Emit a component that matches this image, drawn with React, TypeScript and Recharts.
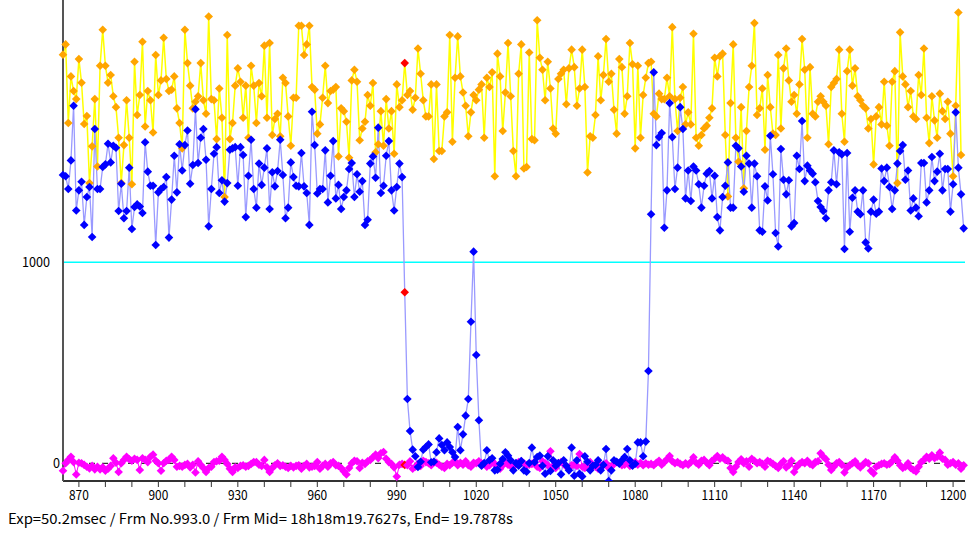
import { ComposedChart, Line, XAxis, YAxis, ReferenceLine } from 'recharts';

// first frame shown on the left edge, and the frame marked in red
const FRAME_START = 864;
const CURRENT_FRAME = 993;

const xTicks = [
  870, 880, 890, 900, 910, 920, 930, 940, 950, 960, 970, 980, 990, 1000, 1010, 1020, 1030,
  1040, 1050, 1060, 1070, 1080, 1090, 1100, 1110, 1120, 1130, 1140, 1150, 1160, 1170, 1180,
  1190, 1200,
];
const yTicks = [0, 1000];

// comparison star (orange markers, yellow line)
const orangeSeries = [
  2033, 2084, 1693, 1925, 1852, 1812, 2011, 1893, 1688, 1728, // 864
  1394, 1577, 1812, 1477, 1978, 2157, 1978, 1893, 1932, 1826, // 874
  1772, 1620, 1394, 1583, 1806, 1620, 1388, 1998, 1733, 1832, // 884
  2097, 1676, 1852, 1806, 1646, 2031, 1832, 1905, 2117, 1912, // 894
  1852, 1859, 1925, 1766, 1693, 1567, 2157, 1991, 1879, 1766, // 904
  1799, 1826, 1991, 1806, 1739, 2223, 1812, 1806, 1613, 1865, // 914
  1719, 1325, 2131, 1613, 1693, 1879, 1965, 1898, 1719, 1879, // 924
  1620, 1978, 1879, 1693, 1892, 1826, 2078, 1719, 2091, 1633, // 934
  1713, 1739, 1627, 1918, 1892, 1726, 1580, 1819, 1819, 2177, // 944
  2177, 2031, 2084, 2177, 1872, 1859, 1640, 1686, 1819, 1978, // 954
  1792, 1852, 1859, 1872, 1527, 1766, 1752, 1699, 1520, 1905, // 964
  1958, 1898, 1607, 1666, 1699, 1832, 1779, 1892, 1547, 1587, // 974
  1752, 1580, 1812, 1666, 1752, 1540, 1885, 1772, 1806, 1991, // 984
  1832, 1852, 1759, 1819, 2064, 1938, 1806, 1726, 1726, 1885, // 994
  1514, 1885, 1554, 1554, 1726, 1746, 2131, 1600, 1918, 2124, // 1004
  1925, 1845, 1779, 1627, 1746, 1832, 1806, 1859, 1885, 1620, // 1014
  1918, 1872, 1945, 1428, 2038, 1925, 1653, 1845, 2091, 1826, // 1024
  1554, 1428, 1938, 2084, 1467, 1474, 2044, 1613, 1607, 2204, // 1034
  2018, 1958, 1806, 1998, 1865, 1666, 1640, 1912, 1938, 1958, // 1044
  1786, 1965, 2058, 1971, 1779, 1865, 2058, 1872, 1447, 1627, // 1054
  1620, 1733, 2025, 1806, 1932, 2111, 1898, 1938, 1759, 1640, // 1064
  2011, 1971, 1739, 1826, 2091, 1985, 1567, 1978, 1620, 1832, // 1074
  1918, 1991, 1998, 1739, 1726, 1839, 1812, 1812, 1918, 1826, // 1084
  2170, 1812, 1653, 1819, 1872, 1686, 1746, 1686, 2137, 1620, // 1094
  1580, 1633, 1666, 1680, 1719, 1766, 2018, 1925, 2025, 2038, // 1104
  1633, 1328, 1792, 2084, 1620, 1500, 1772, 1368, 1653, 1872, // 1114
  1978, 2190, 1733, 1766, 1865, 1560, 1932, 1772, 1640, 1633, // 1124
  2031, 1666, 1965, 2064, 1905, 1799, 1832, 1739, 1885, 2111, // 1134
  1958, 1620, 1971, 1739, 1726, 1799, 1826, 1799, 1779, 1587, // 1144
  1872, 1892, 1912, 2058, 1739, 1600, 1951, 2058, 1879, 1965, // 1154
  1826, 1806, 1779, 1766, 1666, 1713, 1487, 1726, 1772, 1686, // 1164
  1898, 1680, 1580, 1898, 1951, 1394, 2144, 1925, 1885, 1772, // 1174
  1852, 1726, 1713, 1932, 1832, 2064, 1719, 1593, 1826, 1706, // 1184
  1620, 1839, 1752, 1713, 1799, 1640, 1428, 1779, 2243, 1534, // 1194
];

// target star (blue markers) with the occultation dip
const blueSeries = [
  1434, 1428, 1365, 1507, 1779, 1258, 1358, 1401, 1186, 1325, // 864
  1375, 1126, 1663, 1365, 1365, 1474, 1487, 1590, 1497, 1580, // 874
  1570, 1255, 1391, 1219, 1255, 1471, 1166, 1275, 1288, 1278, // 884
  1245, 1597, 1451, 1381, 1381, 1086, 1348, 1365, 1375, 1424, // 894
  1123, 1312, 1530, 1348, 1587, 1457, 1583, 1656, 1391, 1484, // 904
  1762, 1494, 1620, 1663, 1510, 1179, 1365, 1540, 1573, 1345, // 914
  1408, 1302, 1394, 1560, 1567, 1573, 1381, 1573, 1534, 1225, // 924
  1431, 1610, 1365, 1272, 1491, 1385, 1471, 1567, 1265, 1448, // 934
  1378, 1454, 1610, 1434, 1219, 1272, 1497, 1424, 1381, 1378, // 944
  1544, 1378, 1345, 1186, 1749, 1583, 1342, 1365, 1365, 1557, // 954
  1298, 1431, 1603, 1318, 1385, 1265, 1325, 1358, 1464, 1494, // 964
  1325, 1438, 1351, 1404, 1186, 1212, 1491, 1527, 1421, 1670, // 974
  1345, 1381, 1530, 1603, 1358, 1258, 1375, 1491, 1424, 851, // 984
  320, 161, 68, 35, -18, 8, 68, 81, 94, 5, // 994
  8, 55, 124, 91, 65, 104, 81, 55, 31, 181, // 1004
  65, 144, 237, 320, 704, 1053, 539, 214, -12, 1, // 1014
  65, 15, 25, -35, -32, -2, 21, 55, 38, 15, // 1024
  -35, 1, -12, 11, -35, -42, 1, 78, 5, 31, // 1034
  38, -12, -52, 35, -38, 15, -12, 1, -55, 15, // 1044
  -12, -35, 78, -62, 15, -52, -65, 35, 8, -35, // 1054
  -12, -8, 15, -35, -8, 71, -88, -35, 15, 8, // 1064
  -2, 15, 31, 71, 15, -12, -2, 104, 104, 35, // 1074
  108, 459, 1239, 1945, 1583, 1623, 1643, 1172, 1358, 1792, // 1084
  1623, 1365, 1471, 1772, 1663, 1318, 1457, 1305, 1477, 1457, // 1094
  1388, 1272, 1381, 1441, 1454, 1318, 1431, 1225, 1159, 1325, // 1104
  1381, 1497, 1272, 1272, 1580, 1567, 1477, 1351, 1530, 1491, // 1114
  1272, 1491, 1428, 1159, 1152, 1378, 1308, 1630, 1438, 1146, // 1124
  1079, 1564, 1411, 1338, 1408, 1179, 1195, 1530, 1464, 1703, // 1134
  1404, 1481, 1457, 1441, 1398, 1305, 1275, 1255, 1219, 1358, // 1144
  1398, 1557, 1388, 1547, 1537, 1066, 1544, 1152, 1321, 1358, // 1154
  1252, 1239, 1358, 1099, 1069, 1252, 1312, 1242, 1252, 1467, // 1164
  1404, 1471, 1375, 1265, 1358, 1491, 1554, 1583, 1411, 1457, // 1174
  1258, 1318, 1272, 1229, 1494, 1494, 1298, 1358, 1524, 1404, // 1184
  1451, 1540, 1358, 1464, 1464, 1252, 1388, 1746, 1471, 1338, // 1194
  1169, // 1204
];

// sky background (magenta markers)
const magentaSeries = [
  -37, 0, 17, 33, 6, -56, 3, 0, -8, -17, // 864
  -25, -13, -30, -17, -30, -20, -37, -27, -13, 25, // 874
  3, -43, 0, 17, 33, 20, 13, 23, 17, -33, // 884
  25, 17, 6, 33, 43, 13, 0, -37, 0, 13, // 894
  17, 33, 17, -17, -13, -17, -8, -3, -20, -7, // 904
  -46, 10, -8, -23, -43, -23, -17, 6, 10, 13, // 914
  33, 17, -3, -27, -43, -20, -23, -13, -10, -17, // 924
  -13, -3, 6, 6, -7, -13, 17, -20, -43, -23, // 934
  -10, 0, -13, -10, -17, -23, -13, -20, -13, -10, // 944
  -27, -13, -3, -20, -17, -13, 6, -27, -13, -3, // 954
  -17, 0, 6, -10, -13, -23, -40, -56, -23, 0, // 964
  13, 10, -23, 3, -3, 10, 17, 30, 43, 26, // 974
  50, 56, 23, 6, -3, -20, -66, -7, -3, -8, // 984
  -10, 10, -27, -17, -3, -13, 13, 6, 0, -10, // 994
  6, 3, -7, -17, -23, -3, -10, 3, 10, -10, // 1004
  3, -7, 10, -10, -17, 3, 0, 10, 0, -3, // 1014
  -17, -10, 10, -3, -20, -27, -10, 6, -7, -13, // 1024
  -17, -3, 6, 10, 0, -10, -7, -3, 6, -17, // 1034
  -23, 10, 0, -10, 60, -13, -23, 0, 6, -3, // 1044
  -17, -23, -10, -7, -13, 46, -17, -23, -7, 6, // 1054
  -13, -17, -27, -10, -7, 0, -23, -17, -3, 6, // 1064
  0, -10, -7, 6, -13, -3, 6, -7, 3, -10, // 1074
  0, -7, -3, -10, 3, 13, -7, 6, 20, 36, // 1084
  10, 0, 6, -3, -10, 0, -7, 6, 30, 3, // 1094
  -7, 13, 17, 3, -10, 13, 23, 36, 23, 30, // 1104
  17, 13, -23, -43, -17, 6, 20, 0, 10, -17, // 1114
  23, 13, 0, 6, -3, -17, 13, 6, -3, -13, // 1124
  -23, -3, 10, -20, -10, 13, -43, -17, -3, 6, // 1134
  0, 13, -3, -10, 6, 10, 50, 33, 20, -7, // 1144
  -33, -17, 0, 6, -7, -46, -20, -10, 0, 10, // 1154
  -10, -20, -7, 6, 0, -37, -50, -17, -10, -3, // 1164
  0, -7, -3, 10, 30, 13, -10, -23, -17, 0, // 1174
  -23, -33, -40, -17, 6, 17, 33, 23, 40, 26, // 1184
  33, 53, 23, 17, -7, 0, 6, -7, 0, -27, // 1194
  -10, // 1204
];

const statusText = 'Exp=50.2msec / Frm No.993.0 / Frm Mid= 18h18m19.7627s,  End= 19.7878s';

const data = blueSeries.map((b, i) => ({
  frame: FRAME_START + i,
  orange: orangeSeries[i] ?? null,
  blue: b,
  magenta: magentaSeries[i] ?? null,
}));

const FONT = '"Noto Sans CJK JP", "Noto Sans", sans-serif';

function diamond(color: string) {
  return (props: any) => {
    const { cx, cy, payload, index } = props;
    if (cx == null || cy == null) return <g key={`d-${index}`} />;
    const fill = payload.frame === CURRENT_FRAME ? '#ff0000' : color;
    const r = 4.3;
    return (
      <polygon
        key={`d-${index}`}
        points={`${cx},${cy - r} ${cx + r},${cy} ${cx},${cy + r} ${cx - r},${cy}`}
        fill={fill}
      />
    );
  };
}

function XTick(props: any) {
  const { x, y, payload } = props;
  if (payload.value % 30 !== 0) return null;
  const label = String(payload.value);
  return (
    <text
      x={x}
      y={y + 11}
      textAnchor="middle"
      fontFamily={FONT}
      fontSize={13}
      fill="#000"
      textLength={label.length * 6.6}
      lengthAdjust="spacingAndGlyphs"
    >
      {label}
    </text>
  );
}

function YTick(props: any) {
  const { y, payload } = props;
  const label = String(payload.value);
  // the "0" sits closer to the axis than "1000"
  const right = payload.value === 0 ? 60 : 50;
  return (
    <text
      x={right}
      y={y + 5}
      textAnchor="end"
      fontFamily={FONT}
      fontSize={13}
      fill="#000"
      textLength={label.length * 7}
      lengthAdjust="spacingAndGlyphs"
    >
      {label}
    </text>
  );
}

export default function App() {
  return (
    <div style={{ position: 'absolute', left: 0, top: 0, width: 969, height: 538, background: '#fff' }}>
      <ComposedChart
        width={969}
        height={505}
        data={data}
        margin={{ top: 0, right: 4, bottom: 0, left: 0 }}
      >
        <XAxis
          dataKey="frame"
          type="number"
          domain={[864, 1204.5]}
          ticks={xTicks}
          interval={0}
          height={24}
          tickSize={6}
          tick={<XTick />}
          axisLine={{ stroke: '#333', strokeWidth: 2 }}
          tickLine={{ stroke: '#333', strokeWidth: 1 }}
        />
        <YAxis
          type="number"
          domain={[-88, 2305]}
          allowDataOverflow
          ticks={yTicks}
          interval={0}
          width={63}
          tickLine={false}
          tick={<YTick />}
          axisLine={{ stroke: '#555', strokeWidth: 2 }}
        />
        <ReferenceLine y={1000} stroke="#00ffff" strokeWidth={1.5} />
        <ReferenceLine y={0} stroke="#000" strokeWidth={1} strokeDasharray="6 7" />
        <Line
          type="linear"
          dataKey="magenta"
          stroke="#ff00ff"
          strokeWidth={1}
          dot={diamond('#ff00ff')}
          activeDot={false}
          isAnimationActive={false}
        />
        <Line
          type="linear"
          dataKey="orange"
          stroke="#ffff00"
          strokeWidth={1.5}
          dot={diamond('#ffa500')}
          activeDot={false}
          isAnimationActive={false}
        />
        <Line
          type="linear"
          dataKey="blue"
          stroke="#9a9aff"
          strokeWidth={1.3}
          dot={diamond('#0000ff')}
          activeDot={false}
          isAnimationActive={false}
        />
      </ComposedChart>
      <svg width={969} height={33} style={{ position: 'absolute', left: 0, top: 505 }}>
        <text
          x={8}
          y={19}
          fontFamily={FONT}
          fontSize={14}
          fill="#000"
          textLength={505}
          lengthAdjust="spacingAndGlyphs"
        >
          {statusText}
        </text>
      </svg>
    </div>
  );
}
